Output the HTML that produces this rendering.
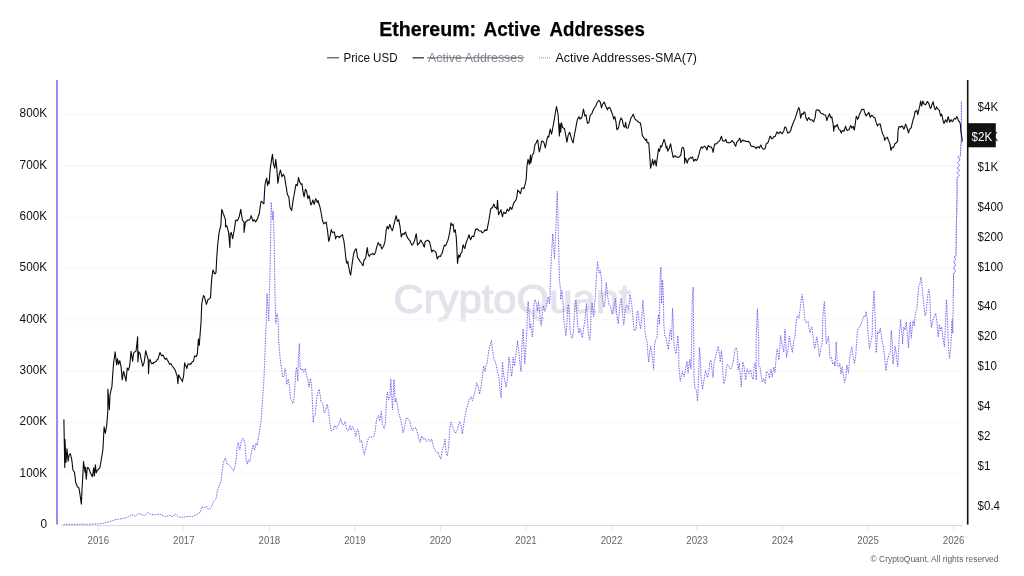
<!DOCTYPE html>
<html><head><meta charset="utf-8"><title>Ethereum: Active Addresses</title>
<style>
html,body{margin:0;padding:0;background:#fff;}
body{width:1024px;height:576px;overflow:hidden;position:relative;font-family:"Liberation Sans",sans-serif;}
</style></head><body>
<svg width="1024" height="576" viewBox="0 0 1024 576" style="position:absolute;left:0;top:0;will-change:transform">
<rect width="1024" height="576" fill="#fff"/>
<text x="512" y="313" text-anchor="middle" font-family="Liberation Sans, sans-serif" font-size="41" fill="#e2e3eb" stroke="#e2e3eb" stroke-width="1.2" stroke-linejoin="round" textLength="237" lengthAdjust="spacingAndGlyphs">CryptoQuant</text>
<line x1="61" x2="962.5" y1="114.45" y2="114.45" stroke="#f6f6f8" stroke-width="1"/>
<line x1="61" x2="962.5" y1="165.80" y2="165.80" stroke="#f6f6f8" stroke-width="1"/>
<line x1="61" x2="962.5" y1="217.15" y2="217.15" stroke="#f6f6f8" stroke-width="1"/>
<line x1="61" x2="962.5" y1="268.50" y2="268.50" stroke="#f6f6f8" stroke-width="1"/>
<line x1="61" x2="962.5" y1="319.85" y2="319.85" stroke="#f6f6f8" stroke-width="1"/>
<line x1="61" x2="962.5" y1="371.20" y2="371.20" stroke="#f6f6f8" stroke-width="1"/>
<line x1="61" x2="962.5" y1="422.55" y2="422.55" stroke="#f6f6f8" stroke-width="1"/>
<line x1="61" x2="962.5" y1="473.90" y2="473.90" stroke="#f6f6f8" stroke-width="1"/>
<line x1="61" x2="962.5" y1="525.45" y2="525.45" stroke="#d9d9e3" stroke-width="1.1"/>
<line x1="98.25" x2="98.25" y1="526" y2="530.5" stroke="#e3e3ec" stroke-width="1.1"/>
<text transform="translate(98.35,544.1) scale(0.925,1)" x="0" y="0" text-anchor="middle" font-family="Liberation Sans, sans-serif" font-size="10.5" fill="#62646e">2016</text>
<line x1="183.78" x2="183.78" y1="526" y2="530.5" stroke="#e3e3ec" stroke-width="1.1"/>
<text transform="translate(183.88,544.1) scale(0.925,1)" x="0" y="0" text-anchor="middle" font-family="Liberation Sans, sans-serif" font-size="10.5" fill="#62646e">2017</text>
<line x1="269.30" x2="269.30" y1="526" y2="530.5" stroke="#e3e3ec" stroke-width="1.1"/>
<text transform="translate(269.40,544.1) scale(0.925,1)" x="0" y="0" text-anchor="middle" font-family="Liberation Sans, sans-serif" font-size="10.5" fill="#62646e">2018</text>
<line x1="354.83" x2="354.83" y1="526" y2="530.5" stroke="#e3e3ec" stroke-width="1.1"/>
<text transform="translate(354.93,544.1) scale(0.925,1)" x="0" y="0" text-anchor="middle" font-family="Liberation Sans, sans-serif" font-size="10.5" fill="#62646e">2019</text>
<line x1="440.35" x2="440.35" y1="526" y2="530.5" stroke="#e3e3ec" stroke-width="1.1"/>
<text transform="translate(440.45,544.1) scale(0.925,1)" x="0" y="0" text-anchor="middle" font-family="Liberation Sans, sans-serif" font-size="10.5" fill="#62646e">2020</text>
<line x1="525.88" x2="525.88" y1="526" y2="530.5" stroke="#e3e3ec" stroke-width="1.1"/>
<text transform="translate(525.98,544.1) scale(0.925,1)" x="0" y="0" text-anchor="middle" font-family="Liberation Sans, sans-serif" font-size="10.5" fill="#62646e">2021</text>
<line x1="611.40" x2="611.40" y1="526" y2="530.5" stroke="#e3e3ec" stroke-width="1.1"/>
<text transform="translate(611.50,544.1) scale(0.925,1)" x="0" y="0" text-anchor="middle" font-family="Liberation Sans, sans-serif" font-size="10.5" fill="#62646e">2022</text>
<line x1="696.93" x2="696.93" y1="526" y2="530.5" stroke="#e3e3ec" stroke-width="1.1"/>
<text transform="translate(697.03,544.1) scale(0.925,1)" x="0" y="0" text-anchor="middle" font-family="Liberation Sans, sans-serif" font-size="10.5" fill="#62646e">2023</text>
<line x1="782.45" x2="782.45" y1="526" y2="530.5" stroke="#e3e3ec" stroke-width="1.1"/>
<text transform="translate(782.55,544.1) scale(0.925,1)" x="0" y="0" text-anchor="middle" font-family="Liberation Sans, sans-serif" font-size="10.5" fill="#62646e">2024</text>
<line x1="867.98" x2="867.98" y1="526" y2="530.5" stroke="#e3e3ec" stroke-width="1.1"/>
<text transform="translate(868.08,544.1) scale(0.925,1)" x="0" y="0" text-anchor="middle" font-family="Liberation Sans, sans-serif" font-size="10.5" fill="#62646e">2025</text>
<line x1="953.50" x2="953.50" y1="526" y2="530.5" stroke="#e3e3ec" stroke-width="1.1"/>
<text transform="translate(953.60,544.1) scale(0.925,1)" x="0" y="0" text-anchor="middle" font-family="Liberation Sans, sans-serif" font-size="10.5" fill="#62646e">2026</text>
<rect x="56" y="80" width="2" height="444.6" fill="#9b8af5"/>
<text transform="translate(47.1,117.25) scale(0.935,1)" x="0" y="0" text-anchor="end" font-family="Liberation Sans, sans-serif" font-size="12.6" fill="#111">800K</text>
<text transform="translate(47.1,168.59) scale(0.935,1)" x="0" y="0" text-anchor="end" font-family="Liberation Sans, sans-serif" font-size="12.6" fill="#111">700K</text>
<text transform="translate(47.1,219.94) scale(0.935,1)" x="0" y="0" text-anchor="end" font-family="Liberation Sans, sans-serif" font-size="12.6" fill="#111">600K</text>
<text transform="translate(47.1,271.28) scale(0.935,1)" x="0" y="0" text-anchor="end" font-family="Liberation Sans, sans-serif" font-size="12.6" fill="#111">500K</text>
<text transform="translate(47.1,322.63) scale(0.935,1)" x="0" y="0" text-anchor="end" font-family="Liberation Sans, sans-serif" font-size="12.6" fill="#111">400K</text>
<text transform="translate(47.1,373.97) scale(0.935,1)" x="0" y="0" text-anchor="end" font-family="Liberation Sans, sans-serif" font-size="12.6" fill="#111">300K</text>
<text transform="translate(47.1,425.31) scale(0.935,1)" x="0" y="0" text-anchor="end" font-family="Liberation Sans, sans-serif" font-size="12.6" fill="#111">200K</text>
<text transform="translate(47.1,476.66) scale(0.935,1)" x="0" y="0" text-anchor="end" font-family="Liberation Sans, sans-serif" font-size="12.6" fill="#111">100K</text>
<text transform="translate(47.1,528.00) scale(0.935,1)" x="0" y="0" text-anchor="end" font-family="Liberation Sans, sans-serif" font-size="12.6" fill="#111">0</text>
<rect x="966.9" y="80" width="1.6" height="444.6" fill="#111"/>
<text transform="translate(977.6,111.25) scale(0.92,1)" x="0" y="0" font-family="Liberation Sans, sans-serif" font-size="12.5" fill="#111">$4K</text>
<text transform="translate(977.6,141.22) scale(0.92,1)" x="0" y="0" font-family="Liberation Sans, sans-serif" font-size="12.5" fill="#111">$2K</text>
<text transform="translate(977.6,171.20) scale(0.92,1)" x="0" y="0" font-family="Liberation Sans, sans-serif" font-size="12.5" fill="#111">$1K</text>
<text transform="translate(977.6,210.82) scale(0.92,1)" x="0" y="0" font-family="Liberation Sans, sans-serif" font-size="12.5" fill="#111">$400</text>
<text transform="translate(977.6,240.80) scale(0.92,1)" x="0" y="0" font-family="Liberation Sans, sans-serif" font-size="12.5" fill="#111">$200</text>
<text transform="translate(977.6,270.77) scale(0.92,1)" x="0" y="0" font-family="Liberation Sans, sans-serif" font-size="12.5" fill="#111">$100</text>
<text transform="translate(977.6,310.40) scale(0.92,1)" x="0" y="0" font-family="Liberation Sans, sans-serif" font-size="12.5" fill="#111">$40</text>
<text transform="translate(977.6,340.37) scale(0.92,1)" x="0" y="0" font-family="Liberation Sans, sans-serif" font-size="12.5" fill="#111">$20</text>
<text transform="translate(977.6,370.35) scale(0.92,1)" x="0" y="0" font-family="Liberation Sans, sans-serif" font-size="12.5" fill="#111">$10</text>
<text transform="translate(977.6,409.97) scale(0.92,1)" x="0" y="0" font-family="Liberation Sans, sans-serif" font-size="12.5" fill="#111">$4</text>
<text transform="translate(977.6,439.95) scale(0.92,1)" x="0" y="0" font-family="Liberation Sans, sans-serif" font-size="12.5" fill="#111">$2</text>
<text transform="translate(977.6,469.92) scale(0.92,1)" x="0" y="0" font-family="Liberation Sans, sans-serif" font-size="12.5" fill="#111">$1</text>
<text transform="translate(977.6,509.55) scale(0.92,1)" x="0" y="0" font-family="Liberation Sans, sans-serif" font-size="12.5" fill="#111">$0.4</text>
<path d="M63.50,524.50 L71.00,524.25 L76.00,524.50 L81.00,524.12 L87.25,524.38 L93.50,524.00 L98.50,523.88 L103.50,523.25 L109.75,521.62 L116.00,519.50 L121.00,518.88 L126.00,517.88 L129.75,516.00 L132.88,514.50 L135.38,516.25 L138.50,513.50 L142.25,515.00 L144.75,515.38 L147.88,512.50 L151.00,514.50 L155.38,514.75 L159.75,514.12 L166.00,517.00 L169.12,515.38 L172.88,516.62 L175.38,513.75 L177.88,516.62 L181.00,517.25 L183.50,517.25 L187.25,516.38 L192.25,516.62 L196.62,514.75 L199.12,512.88 L200.38,512.25 L202.00,506.62 L204.12,507.88 L206.00,506.00 L207.88,509.12 L209.75,509.12 L211.62,506.62 L213.50,501.62 L216.00,499.12 L217.25,491.62 L219.12,486.00 L221.00,481.00 L222.25,471.00 L223.25,462.88 L225.38,457.88 L227.00,464.12 L229.12,464.75 L231.00,467.25 L233.75,471.00 L235.38,464.75 L236.62,456.00 L237.00,446.75 L238.25,442.38 L239.75,449.88 L241.62,440.50 L242.88,438.00 L245.00,443.00 L246.00,458.00 L247.25,464.12 L248.50,459.75 L249.75,461.62 L250.38,458.62 L251.62,451.12 L253.25,444.88 L254.50,450.50 L256.00,443.00 L257.25,445.50 L258.50,436.75 L260.00,428.62 L261.00,423.00 L262.00,406.75 L262.88,394.25 L263.50,388.00 L264.50,366.00 L265.40,341.00 L266.25,322.25 L267.00,293.50 L268.75,321.00 L270.00,271.00 L271.25,202.25 L272.50,219.75 L273.25,211.00 L274.25,246.00 L275.00,296.00 L275.75,323.50 L277.00,313.50 L278.00,318.50 L278.75,341.00 L279.75,353.50 L280.75,363.50 L281.60,368.50 L282.50,377.25 L284.10,376.00 L285.00,368.50 L286.00,373.50 L286.60,384.75 L288.25,379.10 L289.50,386.60 L290.40,398.00 L291.60,400.50 L292.90,403.60 L294.10,398.00 L294.75,388.00 L295.75,372.25 L296.60,367.25 L297.90,381.00 L298.25,359.75 L299.40,343.50 L300.00,366.00 L301.00,370.40 L302.50,368.50 L303.50,372.25 L305.40,368.50 L306.25,374.75 L307.90,379.75 L309.10,387.25 L310.40,378.50 L311.60,386.00 L312.25,398.00 L313.25,422.38 L313.75,416.75 L315.38,414.88 L316.62,398.00 L317.88,393.00 L319.12,389.25 L320.00,394.25 L321.00,401.75 L322.88,403.62 L324.12,413.00 L325.38,411.12 L327.25,404.25 L328.50,411.12 L329.75,421.75 L331.00,430.50 L332.88,430.50 L334.75,425.50 L336.25,428.62 L337.88,425.50 L339.12,423.62 L340.75,418.62 L342.25,424.12 L343.75,424.75 L345.00,421.62 L346.62,429.12 L348.50,431.00 L349.75,425.38 L351.25,430.38 L352.50,426.62 L354.50,429.75 L355.75,436.62 L357.50,429.12 L358.75,432.25 L360.00,442.25 L361.62,440.38 L362.88,448.50 L364.38,454.75 L366.00,447.25 L367.88,439.75 L369.75,436.62 L372.25,437.25 L374.12,436.00 L375.38,429.12 L376.62,419.12 L378.50,415.38 L379.75,421.00 L381.25,411.62 L382.50,424.75 L384.12,428.50 L385.38,423.50 L386.25,406.00 L386.62,397.88 L387.40,392.00 L388.50,400.00 L390.00,396.60 L390.80,379.00 L392.50,409.75 L394.00,379.50 L395.20,402.00 L396.00,398.50 L397.50,405.38 L398.50,412.25 L400.00,417.25 L401.62,423.50 L403.12,432.88 L404.75,426.00 L406.25,417.88 L407.88,418.50 L409.75,421.00 L411.00,427.25 L412.50,431.00 L414.12,427.88 L416.00,427.88 L417.50,432.88 L418.75,438.50 L420.00,442.25 L421.62,436.00 L422.88,439.12 L425.00,438.50 L426.62,441.62 L428.50,439.12 L430.00,441.62 L431.62,439.12 L433.25,446.00 L434.75,449.75 L436.62,452.25 L438.25,452.25 L439.50,456.62 L440.75,459.12 L442.25,449.75 L443.75,445.38 L445.00,439.12 L446.00,452.88 L447.25,456.00 L448.50,448.50 L449.75,429.00 L451.12,422.12 L453.00,427.75 L455.50,433.38 L457.38,429.62 L459.50,421.50 L461.12,425.25 L462.38,434.00 L463.62,425.25 L464.88,417.12 L466.50,408.38 L468.00,404.00 L469.50,399.00 L471.12,396.50 L472.38,400.88 L473.62,396.50 L475.25,390.88 L476.75,382.75 L478.25,386.50 L479.50,394.00 L481.12,386.50 L482.38,376.50 L483.62,365.88 L484.90,371.50 L486.10,365.25 L486.90,364.00 L489.00,349.50 L491.50,340.10 L492.50,350.75 L494.00,358.90 L496.00,364.00 L497.75,372.75 L499.00,377.75 L500.25,392.75 L501.10,397.75 L501.75,382.75 L502.50,362.00 L503.60,375.25 L504.90,380.90 L506.10,387.10 L507.40,380.25 L508.25,369.00 L509.00,357.00 L510.50,367.75 L511.50,376.50 L512.40,370.25 L513.10,357.00 L514.50,366.00 L516.25,352.00 L517.50,340.75 L518.75,350.75 L520.00,364.00 L521.10,371.50 L521.90,347.00 L523.10,328.90 L524.00,348.25 L524.75,364.00 L525.60,352.00 L526.90,329.50 L527.50,310.75 L528.12,301.38 L529.00,312.00 L530.00,328.25 L530.62,323.25 L531.50,330.75 L532.50,337.00 L533.12,327.00 L534.00,304.50 L535.00,299.50 L536.25,303.25 L537.25,310.75 L538.50,301.38 L539.38,309.50 L540.25,318.25 L541.25,325.75 L542.50,312.00 L543.50,305.75 L544.75,311.38 L546.00,308.25 L547.50,299.50 L548.50,297.00 L549.38,303.88 L550.25,295.75 L550.00,290.00 L551.50,255.00 L552.75,233.75 L554.50,258.75 L555.75,230.00 L557.25,191.25 L558.25,230.00 L559.50,280.00 L560.75,292.50 L560.62,299.50 L561.25,294.50 L562.00,290.75 L563.12,304.50 L563.75,319.50 L564.75,327.00 L566.00,335.75 L566.88,323.25 L567.75,307.00 L568.50,304.50 L569.38,314.50 L570.00,329.50 L571.25,337.00 L572.50,338.25 L573.50,330.75 L574.38,314.50 L575.25,302.00 L576.00,299.50 L576.88,314.50 L577.75,325.75 L579.00,333.25 L580.00,328.25 L581.00,332.00 L582.50,337.62 L583.50,328.25 L584.75,322.00 L585.62,313.25 L586.50,303.25 L587.25,317.00 L588.12,332.00 L589.75,340.12 L590.62,328.25 L591.25,309.50 L592.12,302.62 L593.12,313.25 L593.75,317.00 L594.38,305.75 L595.25,298.25 L596.50,275.00 L597.50,261.25 L599.12,273.12 L600.38,270.62 L601.62,280.00 L601.62,292.00 L603.75,307.00 L605.00,302.00 L606.25,282.50 L607.88,298.25 L609.12,304.50 L610.75,307.00 L612.00,314.50 L613.50,309.50 L615.38,298.25 L616.62,313.25 L618.25,323.88 L619.75,305.75 L621.25,298.25 L622.50,313.25 L623.75,325.12 L625.38,308.25 L627.00,305.12 L628.50,309.50 L630.00,294.50 L631.62,303.25 L632.88,317.00 L634.12,330.75 L636.00,329.50 L637.00,313.25 L637.88,310.75 L639.12,322.00 L640.75,328.88 L642.00,313.25 L642.88,300.12 L644.12,317.00 L644.75,329.50 L646.00,338.25 L647.25,342.00 L647.88,354.50 L648.75,362.00 L649.75,352.00 L650.75,346.38 L652.00,354.50 L653.25,364.00 L653.50,370.00 L654.50,345.75 L655.75,339.50 L657.00,338.25 L657.50,322.00 L658.50,314.50 L659.50,324.50 L659.80,292.00 L660.30,275.00 L661.00,266.90 L661.60,303.25 L662.60,280.00 L663.50,297.00 L663.75,323.25 L664.75,335.75 L666.25,338.25 L667.25,344.50 L668.50,349.50 L669.75,332.00 L670.75,329.50 L671.62,340.12 L672.50,308.25 L673.50,329.50 L674.12,347.00 L676.00,353.88 L677.25,342.00 L677.88,335.75 L678.75,349.50 L678.75,365.00 L680.25,381.25 L682.50,371.25 L684.00,376.88 L685.62,368.75 L686.88,361.25 L688.12,373.12 L689.75,359.38 L691.00,368.75 L691.60,342.00 L692.25,300.00 L693.25,286.90 L693.75,342.00 L694.00,377.50 L695.00,388.75 L696.50,390.00 L697.50,401.25 L698.50,381.25 L699.38,347.50 L700.25,356.25 L701.00,376.25 L702.50,389.38 L704.00,380.00 L705.62,370.62 L707.50,377.50 L709.00,371.25 L709.75,362.50 L711.00,360.00 L711.88,368.75 L713.12,377.50 L714.00,363.12 L715.25,357.50 L716.50,352.50 L718.12,346.25 L719.38,353.75 L720.25,361.88 L721.50,350.62 L722.50,363.75 L723.12,377.50 L724.00,383.75 L725.62,376.88 L726.50,367.50 L727.50,364.38 L729.00,366.88 L730.62,369.38 L732.50,365.00 L733.75,357.50 L735.00,348.75 L736.25,347.50 L737.25,351.25 L738.12,370.00 L739.38,363.12 L740.25,375.00 L741.25,386.88 L742.25,371.25 L742.75,361.88 L744.38,368.12 L745.62,380.00 L747.25,368.75 L748.75,373.75 L750.62,370.00 L751.88,376.25 L753.12,379.38 L754.38,363.12 L755.62,363.75 L756.25,380.00 L756.10,340.00 L757.40,308.75 L758.70,340.00 L758.75,366.25 L760.00,366.88 L761.00,374.38 L762.25,381.88 L763.75,378.75 L765.25,383.75 L766.50,371.25 L768.12,373.12 L769.38,378.12 L771.00,369.38 L772.25,376.88 L773.75,366.88 L775.00,372.50 L776.25,356.25 L777.25,348.75 L779.00,360.00 L780.62,335.62 L782.25,346.25 L783.75,351.88 L785.00,329.38 L786.50,357.50 L788.12,348.75 L789.38,336.25 L791.00,346.25 L792.50,352.50 L793.75,340.00 L795.00,337.50 L796.25,321.25 L797.50,315.62 L799.00,318.12 L800.62,305.00 L802.12,294.38 L803.50,303.75 L804.75,318.75 L806.25,323.12 L808.12,321.25 L809.75,332.50 L811.88,326.88 L813.12,337.50 L814.62,348.75 L816.88,336.88 L818.12,346.25 L819.38,356.88 L821.00,347.50 L822.25,342.50 L822.75,317.50 L824.38,301.25 L825.25,320.00 L826.25,343.75 L828.50,336.25 L829.38,348.75 L830.00,358.12 L831.50,357.50 L832.75,364.38 L834.38,361.88 L835.00,366.25 L836.25,341.88 L837.25,365.00 L838.75,366.88 L839.75,363.12 L841.00,373.75 L842.25,366.88 L843.50,376.88 L844.75,382.50 L846.00,376.25 L846.88,365.00 L848.50,373.12 L849.38,361.25 L850.62,352.50 L851.88,346.88 L853.12,356.25 L854.38,363.75 L855.62,356.25 L857.50,330.75 L859.38,327.00 L861.88,322.00 L863.75,315.75 L865.00,317.00 L866.25,311.38 L867.25,319.50 L868.12,334.50 L869.47,348.97 L872.20,334.75 L872.50,317.00 L874.00,290.75 L875.00,313.25 L876.25,352.80 L877.67,331.47 L878.77,333.66 L880.41,328.19 L882.05,340.22 L883.69,348.97 L884.78,358.81 L885.88,370.84 L887.52,359.91 L889.16,354.44 L890.25,352.25 L891.34,330.38 L892.22,342.41 L892.98,364.28 L894.62,352.25 L895.17,346.23 L896.27,353.34 L897.69,366.47 L898.78,347.88 L899.55,331.47 L900.00,328.25 L900.62,319.50 L901.50,332.00 L902.50,338.25 L902.50,344.05 L903.75,327.00 L905.00,330.12 L906.25,322.00 L907.25,332.00 L908.52,347.88 L909.38,332.00 L910.25,322.00 L911.25,338.25 L912.25,327.00 L913.12,320.75 L914.38,325.75 L915.25,313.25 L916.88,309.50 L917.75,297.00 L918.75,285.75 L920.00,283.25 L921.00,277.00 L921.88,283.25 L922.75,294.50 L923.75,303.25 L925.00,315.75 L926.25,312.00 L927.50,297.00 L928.75,289.50 L929.75,295.75 L930.62,319.50 L931.50,327.62 L932.75,320.75 L934.00,317.62 L935.62,313.25 L936.88,322.00 L938.12,337.00 L939.38,324.50 L940.62,330.75 L941.62,327.00 L942.75,337.00 L944.39,346.78 L945.62,322.00 L946.50,299.50 L947.50,322.00 L948.44,347.88 L949.53,358.27 L950.62,347.88 L951.50,334.75 L951.50,324.50 L952.25,319.50 L952.75,333.25 L953.25,297.00 L953.60,280.00 L953.40,274.00 L955.50,271.00 L953.50,268.00 L955.60,265.00 L953.60,262.00 L955.80,259.00 L954.20,257.00 L956.00,255.60 L956.30,229.00 L957.10,194.00 L957.10,177.50 L959.50,175.60 L956.90,172.80 L959.70,170.00 L957.10,168.10 L959.50,165.30 L957.60,162.50 L960.10,160.20 L958.10,156.90 L960.40,155.90 L960.80,147.00 L961.30,140.00 L961.30,130.00 L961.40,101.20" fill="none" stroke="#604fea" stroke-opacity="0.10" stroke-width="1" stroke-linejoin="round"/>
<path d="M63.50,524.50 L71.00,524.25 L76.00,524.50 L81.00,524.12 L87.25,524.38 L93.50,524.00 L98.50,523.88 L103.50,523.25 L109.75,521.62 L116.00,519.50 L121.00,518.88 L126.00,517.88 L129.75,516.00 L132.88,514.50 L135.38,516.25 L138.50,513.50 L142.25,515.00 L144.75,515.38 L147.88,512.50 L151.00,514.50 L155.38,514.75 L159.75,514.12 L166.00,517.00 L169.12,515.38 L172.88,516.62 L175.38,513.75 L177.88,516.62 L181.00,517.25 L183.50,517.25 L187.25,516.38 L192.25,516.62 L196.62,514.75 L199.12,512.88 L200.38,512.25 L202.00,506.62 L204.12,507.88 L206.00,506.00 L207.88,509.12 L209.75,509.12 L211.62,506.62 L213.50,501.62 L216.00,499.12 L217.25,491.62 L219.12,486.00 L221.00,481.00 L222.25,471.00 L223.25,462.88 L225.38,457.88 L227.00,464.12 L229.12,464.75 L231.00,467.25 L233.75,471.00 L235.38,464.75 L236.62,456.00 L237.00,446.75 L238.25,442.38 L239.75,449.88 L241.62,440.50 L242.88,438.00 L245.00,443.00 L246.00,458.00 L247.25,464.12 L248.50,459.75 L249.75,461.62 L250.38,458.62 L251.62,451.12 L253.25,444.88 L254.50,450.50 L256.00,443.00 L257.25,445.50 L258.50,436.75 L260.00,428.62 L261.00,423.00 L262.00,406.75 L262.88,394.25 L263.50,388.00 L264.50,366.00 L265.40,341.00 L266.25,322.25 L267.00,293.50 L268.75,321.00 L270.00,271.00 L271.25,202.25 L272.50,219.75 L273.25,211.00 L274.25,246.00 L275.00,296.00 L275.75,323.50 L277.00,313.50 L278.00,318.50 L278.75,341.00 L279.75,353.50 L280.75,363.50 L281.60,368.50 L282.50,377.25 L284.10,376.00 L285.00,368.50 L286.00,373.50 L286.60,384.75 L288.25,379.10 L289.50,386.60 L290.40,398.00 L291.60,400.50 L292.90,403.60 L294.10,398.00 L294.75,388.00 L295.75,372.25 L296.60,367.25 L297.90,381.00 L298.25,359.75 L299.40,343.50 L300.00,366.00 L301.00,370.40 L302.50,368.50 L303.50,372.25 L305.40,368.50 L306.25,374.75 L307.90,379.75 L309.10,387.25 L310.40,378.50 L311.60,386.00 L312.25,398.00 L313.25,422.38 L313.75,416.75 L315.38,414.88 L316.62,398.00 L317.88,393.00 L319.12,389.25 L320.00,394.25 L321.00,401.75 L322.88,403.62 L324.12,413.00 L325.38,411.12 L327.25,404.25 L328.50,411.12 L329.75,421.75 L331.00,430.50 L332.88,430.50 L334.75,425.50 L336.25,428.62 L337.88,425.50 L339.12,423.62 L340.75,418.62 L342.25,424.12 L343.75,424.75 L345.00,421.62 L346.62,429.12 L348.50,431.00 L349.75,425.38 L351.25,430.38 L352.50,426.62 L354.50,429.75 L355.75,436.62 L357.50,429.12 L358.75,432.25 L360.00,442.25 L361.62,440.38 L362.88,448.50 L364.38,454.75 L366.00,447.25 L367.88,439.75 L369.75,436.62 L372.25,437.25 L374.12,436.00 L375.38,429.12 L376.62,419.12 L378.50,415.38 L379.75,421.00 L381.25,411.62 L382.50,424.75 L384.12,428.50 L385.38,423.50 L386.25,406.00 L386.62,397.88 L387.40,392.00 L388.50,400.00 L390.00,396.60 L390.80,379.00 L392.50,409.75 L394.00,379.50 L395.20,402.00 L396.00,398.50 L397.50,405.38 L398.50,412.25 L400.00,417.25 L401.62,423.50 L403.12,432.88 L404.75,426.00 L406.25,417.88 L407.88,418.50 L409.75,421.00 L411.00,427.25 L412.50,431.00 L414.12,427.88 L416.00,427.88 L417.50,432.88 L418.75,438.50 L420.00,442.25 L421.62,436.00 L422.88,439.12 L425.00,438.50 L426.62,441.62 L428.50,439.12 L430.00,441.62 L431.62,439.12 L433.25,446.00 L434.75,449.75 L436.62,452.25 L438.25,452.25 L439.50,456.62 L440.75,459.12 L442.25,449.75 L443.75,445.38 L445.00,439.12 L446.00,452.88 L447.25,456.00 L448.50,448.50 L449.75,429.00 L451.12,422.12 L453.00,427.75 L455.50,433.38 L457.38,429.62 L459.50,421.50 L461.12,425.25 L462.38,434.00 L463.62,425.25 L464.88,417.12 L466.50,408.38 L468.00,404.00 L469.50,399.00 L471.12,396.50 L472.38,400.88 L473.62,396.50 L475.25,390.88 L476.75,382.75 L478.25,386.50 L479.50,394.00 L481.12,386.50 L482.38,376.50 L483.62,365.88 L484.90,371.50 L486.10,365.25 L486.90,364.00 L489.00,349.50 L491.50,340.10 L492.50,350.75 L494.00,358.90 L496.00,364.00 L497.75,372.75 L499.00,377.75 L500.25,392.75 L501.10,397.75 L501.75,382.75 L502.50,362.00 L503.60,375.25 L504.90,380.90 L506.10,387.10 L507.40,380.25 L508.25,369.00 L509.00,357.00 L510.50,367.75 L511.50,376.50 L512.40,370.25 L513.10,357.00 L514.50,366.00 L516.25,352.00 L517.50,340.75 L518.75,350.75 L520.00,364.00 L521.10,371.50 L521.90,347.00 L523.10,328.90 L524.00,348.25 L524.75,364.00 L525.60,352.00 L526.90,329.50 L527.50,310.75 L528.12,301.38 L529.00,312.00 L530.00,328.25 L530.62,323.25 L531.50,330.75 L532.50,337.00 L533.12,327.00 L534.00,304.50 L535.00,299.50 L536.25,303.25 L537.25,310.75 L538.50,301.38 L539.38,309.50 L540.25,318.25 L541.25,325.75 L542.50,312.00 L543.50,305.75 L544.75,311.38 L546.00,308.25 L547.50,299.50 L548.50,297.00 L549.38,303.88 L550.25,295.75 L550.00,290.00 L551.50,255.00 L552.75,233.75 L554.50,258.75 L555.75,230.00 L557.25,191.25 L558.25,230.00 L559.50,280.00 L560.75,292.50 L560.62,299.50 L561.25,294.50 L562.00,290.75 L563.12,304.50 L563.75,319.50 L564.75,327.00 L566.00,335.75 L566.88,323.25 L567.75,307.00 L568.50,304.50 L569.38,314.50 L570.00,329.50 L571.25,337.00 L572.50,338.25 L573.50,330.75 L574.38,314.50 L575.25,302.00 L576.00,299.50 L576.88,314.50 L577.75,325.75 L579.00,333.25 L580.00,328.25 L581.00,332.00 L582.50,337.62 L583.50,328.25 L584.75,322.00 L585.62,313.25 L586.50,303.25 L587.25,317.00 L588.12,332.00 L589.75,340.12 L590.62,328.25 L591.25,309.50 L592.12,302.62 L593.12,313.25 L593.75,317.00 L594.38,305.75 L595.25,298.25 L596.50,275.00 L597.50,261.25 L599.12,273.12 L600.38,270.62 L601.62,280.00 L601.62,292.00 L603.75,307.00 L605.00,302.00 L606.25,282.50 L607.88,298.25 L609.12,304.50 L610.75,307.00 L612.00,314.50 L613.50,309.50 L615.38,298.25 L616.62,313.25 L618.25,323.88 L619.75,305.75 L621.25,298.25 L622.50,313.25 L623.75,325.12 L625.38,308.25 L627.00,305.12 L628.50,309.50 L630.00,294.50 L631.62,303.25 L632.88,317.00 L634.12,330.75 L636.00,329.50 L637.00,313.25 L637.88,310.75 L639.12,322.00 L640.75,328.88 L642.00,313.25 L642.88,300.12 L644.12,317.00 L644.75,329.50 L646.00,338.25 L647.25,342.00 L647.88,354.50 L648.75,362.00 L649.75,352.00 L650.75,346.38 L652.00,354.50 L653.25,364.00 L653.50,370.00 L654.50,345.75 L655.75,339.50 L657.00,338.25 L657.50,322.00 L658.50,314.50 L659.50,324.50 L659.80,292.00 L660.30,275.00 L661.00,266.90 L661.60,303.25 L662.60,280.00 L663.50,297.00 L663.75,323.25 L664.75,335.75 L666.25,338.25 L667.25,344.50 L668.50,349.50 L669.75,332.00 L670.75,329.50 L671.62,340.12 L672.50,308.25 L673.50,329.50 L674.12,347.00 L676.00,353.88 L677.25,342.00 L677.88,335.75 L678.75,349.50 L678.75,365.00 L680.25,381.25 L682.50,371.25 L684.00,376.88 L685.62,368.75 L686.88,361.25 L688.12,373.12 L689.75,359.38 L691.00,368.75 L691.60,342.00 L692.25,300.00 L693.25,286.90 L693.75,342.00 L694.00,377.50 L695.00,388.75 L696.50,390.00 L697.50,401.25 L698.50,381.25 L699.38,347.50 L700.25,356.25 L701.00,376.25 L702.50,389.38 L704.00,380.00 L705.62,370.62 L707.50,377.50 L709.00,371.25 L709.75,362.50 L711.00,360.00 L711.88,368.75 L713.12,377.50 L714.00,363.12 L715.25,357.50 L716.50,352.50 L718.12,346.25 L719.38,353.75 L720.25,361.88 L721.50,350.62 L722.50,363.75 L723.12,377.50 L724.00,383.75 L725.62,376.88 L726.50,367.50 L727.50,364.38 L729.00,366.88 L730.62,369.38 L732.50,365.00 L733.75,357.50 L735.00,348.75 L736.25,347.50 L737.25,351.25 L738.12,370.00 L739.38,363.12 L740.25,375.00 L741.25,386.88 L742.25,371.25 L742.75,361.88 L744.38,368.12 L745.62,380.00 L747.25,368.75 L748.75,373.75 L750.62,370.00 L751.88,376.25 L753.12,379.38 L754.38,363.12 L755.62,363.75 L756.25,380.00 L756.10,340.00 L757.40,308.75 L758.70,340.00 L758.75,366.25 L760.00,366.88 L761.00,374.38 L762.25,381.88 L763.75,378.75 L765.25,383.75 L766.50,371.25 L768.12,373.12 L769.38,378.12 L771.00,369.38 L772.25,376.88 L773.75,366.88 L775.00,372.50 L776.25,356.25 L777.25,348.75 L779.00,360.00 L780.62,335.62 L782.25,346.25 L783.75,351.88 L785.00,329.38 L786.50,357.50 L788.12,348.75 L789.38,336.25 L791.00,346.25 L792.50,352.50 L793.75,340.00 L795.00,337.50 L796.25,321.25 L797.50,315.62 L799.00,318.12 L800.62,305.00 L802.12,294.38 L803.50,303.75 L804.75,318.75 L806.25,323.12 L808.12,321.25 L809.75,332.50 L811.88,326.88 L813.12,337.50 L814.62,348.75 L816.88,336.88 L818.12,346.25 L819.38,356.88 L821.00,347.50 L822.25,342.50 L822.75,317.50 L824.38,301.25 L825.25,320.00 L826.25,343.75 L828.50,336.25 L829.38,348.75 L830.00,358.12 L831.50,357.50 L832.75,364.38 L834.38,361.88 L835.00,366.25 L836.25,341.88 L837.25,365.00 L838.75,366.88 L839.75,363.12 L841.00,373.75 L842.25,366.88 L843.50,376.88 L844.75,382.50 L846.00,376.25 L846.88,365.00 L848.50,373.12 L849.38,361.25 L850.62,352.50 L851.88,346.88 L853.12,356.25 L854.38,363.75 L855.62,356.25 L857.50,330.75 L859.38,327.00 L861.88,322.00 L863.75,315.75 L865.00,317.00 L866.25,311.38 L867.25,319.50 L868.12,334.50 L869.47,348.97 L872.20,334.75 L872.50,317.00 L874.00,290.75 L875.00,313.25 L876.25,352.80 L877.67,331.47 L878.77,333.66 L880.41,328.19 L882.05,340.22 L883.69,348.97 L884.78,358.81 L885.88,370.84 L887.52,359.91 L889.16,354.44 L890.25,352.25 L891.34,330.38 L892.22,342.41 L892.98,364.28 L894.62,352.25 L895.17,346.23 L896.27,353.34 L897.69,366.47 L898.78,347.88 L899.55,331.47 L900.00,328.25 L900.62,319.50 L901.50,332.00 L902.50,338.25 L902.50,344.05 L903.75,327.00 L905.00,330.12 L906.25,322.00 L907.25,332.00 L908.52,347.88 L909.38,332.00 L910.25,322.00 L911.25,338.25 L912.25,327.00 L913.12,320.75 L914.38,325.75 L915.25,313.25 L916.88,309.50 L917.75,297.00 L918.75,285.75 L920.00,283.25 L921.00,277.00 L921.88,283.25 L922.75,294.50 L923.75,303.25 L925.00,315.75 L926.25,312.00 L927.50,297.00 L928.75,289.50 L929.75,295.75 L930.62,319.50 L931.50,327.62 L932.75,320.75 L934.00,317.62 L935.62,313.25 L936.88,322.00 L938.12,337.00 L939.38,324.50 L940.62,330.75 L941.62,327.00 L942.75,337.00 L944.39,346.78 L945.62,322.00 L946.50,299.50 L947.50,322.00 L948.44,347.88 L949.53,358.27 L950.62,347.88 L951.50,334.75 L951.50,324.50 L952.25,319.50 L952.75,333.25 L953.25,297.00 L953.60,280.00 L953.40,274.00 L955.50,271.00 L953.50,268.00 L955.60,265.00 L953.60,262.00 L955.80,259.00 L954.20,257.00 L956.00,255.60 L956.30,229.00 L957.10,194.00 L957.10,177.50 L959.50,175.60 L956.90,172.80 L959.70,170.00 L957.10,168.10 L959.50,165.30 L957.60,162.50 L960.10,160.20 L958.10,156.90 L960.40,155.90 L960.80,147.00 L961.30,140.00 L961.30,130.00 L961.40,101.20" fill="none" stroke="#6857ee" stroke-width="0.92" stroke-dasharray="1.3 1.3" stroke-linejoin="round"/>
<path d="M953.25,297.00 L953.60,280.00 L953.40,274.00 L955.50,271.00 L953.50,268.00 L955.60,265.00 L953.60,262.00 L955.80,259.00 L954.20,257.00 L956.00,255.60 L956.30,229.00 L957.10,194.00 L957.10,177.50 L959.50,175.60 L956.90,172.80 L959.70,170.00 L957.10,168.10 L959.50,165.30 L957.60,162.50 L960.10,160.20 L958.10,156.90 L960.40,155.90 L960.80,147.00 L961.30,140.00 L961.30,130.00 L961.40,101.20" fill="none" stroke="#6857ee" stroke-opacity="0.38" stroke-width="0.95" stroke-linejoin="round"/>
<path d="M63.88,419.38 L64.75,467.50 L65.00,439.38 L66.00,462.50 L67.00,448.75 L67.56,454.77 L68.12,461.25 L69.12,455.00 L69.75,453.92 L70.38,453.75 L71.00,456.45 L71.62,458.75 L72.25,463.69 L72.88,469.75 L73.69,471.05 L74.50,472.25 L75.12,477.39 L75.75,482.88 L76.50,484.18 L77.25,486.62 L78.06,487.26 L78.88,487.88 L79.63,491.96 L80.38,497.25 L81.38,504.12 L82.00,489.75 L82.88,474.75 L83.50,461.62 L84.25,466.85 L85.00,472.25 L85.38,467.25 L86.25,479.12 L87.25,467.88 L88.00,467.63 L88.75,468.50 L89.56,470.16 L90.38,472.88 L91.09,474.03 L91.79,475.80 L92.50,476.62 L93.12,471.76 L93.75,467.88 L94.38,476.00 L95.38,464.75 L96.25,472.88 L97.06,470.96 L97.88,469.75 L98.81,468.98 L99.75,467.88 L100.50,464.40 L101.25,459.75 L102.06,454.98 L102.88,450.00 L103.50,438.31 L104.12,426.88 L104.75,430.62 L105.38,433.12 L106.00,429.10 L106.62,426.25 L107.25,418.59 L107.88,410.00 L107.88,389.38 L108.63,399.11 L109.38,409.38 L110.00,395.00 L110.63,391.83 L111.25,389.09 L111.88,386.88 L112.69,375.07 L113.50,363.75 L114.31,358.23 L115.12,351.88 L115.87,358.02 L116.62,365.00 L117.50,358.75 L118.50,364.38 L119.12,362.61 L119.75,360.62 L120.38,363.62 L121.00,366.25 L121.62,372.96 L122.25,380.00 L122.88,375.69 L123.50,371.25 L124.33,374.01 L125.17,377.34 L126.00,381.25 L126.62,374.30 L127.25,368.12 L127.88,369.29 L128.50,370.00 L129.12,367.72 L129.75,365.62 L130.38,358.19 L131.00,351.25 L131.81,356.36 L132.62,361.25 L133.50,353.12 L134.33,352.44 L135.17,351.61 L136.00,351.25 L136.81,344.45 L137.62,336.88 L137.88,361.88 L138.75,351.88 L139.38,352.76 L140.00,353.12 L141.00,358.75 L141.81,362.17 L142.62,366.25 L143.37,364.47 L144.12,362.50 L144.94,356.59 L145.75,350.62 L146.50,353.92 L147.25,356.25 L148.25,360.00 L148.50,373.75 L149.12,361.88 L150.00,359.38 L150.81,361.86 L151.62,363.75 L152.40,363.16 L153.19,363.75 L153.97,362.32 L154.75,362.50 L155.53,361.61 L156.31,361.27 L157.10,359.71 L157.88,359.38 L158.59,357.07 L159.29,354.19 L160.00,352.50 L160.81,354.28 L161.62,355.62 L162.25,355.65 L162.88,355.00 L163.71,356.55 L164.55,358.41 L165.38,359.38 L166.00,358.51 L166.62,358.12 L167.40,359.94 L168.19,361.37 L168.97,362.92 L169.75,364.38 L170.38,364.01 L171.00,363.75 L171.75,365.32 L172.50,366.58 L173.25,367.09 L174.00,368.47 L174.75,369.38 L175.58,371.10 L176.42,374.22 L177.25,376.25 L177.88,383.75 L178.62,374.75 L179.25,375.98 L179.87,377.48 L180.50,377.88 L181.13,379.55 L181.75,380.09 L182.38,381.62 L183.00,378.66 L183.62,376.00 L184.62,362.88 L185.33,364.97 L186.04,366.01 L186.75,368.50 L187.38,366.26 L188.00,364.12 L188.63,363.90 L189.25,364.04 L189.88,364.75 L190.63,363.43 L191.38,363.60 L192.12,362.02 L192.87,361.42 L193.62,361.00 L194.50,356.00 L195.31,356.17 L196.12,356.62 L196.75,355.54 L197.38,353.50 L198.38,339.12 L199.25,345.38 L200.25,332.25 L201.12,321.00 L201.75,303.75 L202.62,299.14 L203.50,295.62 L204.50,296.88 L205.13,299.31 L205.75,301.94 L206.38,304.38 L207.19,302.38 L208.00,299.38 L208.83,299.17 L209.67,298.60 L210.50,297.50 L211.12,287.52 L211.75,278.12 L212.38,273.95 L213.00,270.00 L213.75,271.69 L214.50,273.75 L215.25,273.62 L216.00,272.50 L216.75,257.50 L217.75,243.75 L218.38,239.03 L219.00,233.12 L219.88,229.23 L220.75,226.25 L221.75,209.38 L222.50,211.14 L223.25,213.75 L224.00,215.48 L224.75,217.57 L225.50,220.00 L225.50,226.88 L226.12,226.23 L226.75,225.62 L227.69,229.18 L228.62,232.50 L229.25,239.69 L229.88,247.50 L230.25,233.75 L231.12,232.50 L231.87,234.98 L232.62,238.75 L233.44,234.27 L234.25,230.00 L235.00,224.83 L235.75,220.00 L236.56,220.40 L237.38,220.62 L238.31,219.02 L239.25,216.25 L240.00,213.06 L240.75,209.38 L241.56,214.71 L242.38,220.00 L243.19,221.09 L244.00,221.88 L244.00,232.50 L244.62,228.04 L245.25,223.12 L245.96,221.50 L246.67,221.56 L247.38,220.00 L248.21,220.16 L249.05,220.07 L249.88,219.38 L250.50,217.89 L251.12,215.62 L251.75,217.36 L252.37,219.24 L253.00,221.25 L253.75,220.11 L254.50,220.00 L255.50,221.88 L256.13,221.22 L256.75,219.64 L257.38,219.38 L258.31,216.00 L259.25,213.75 L260.19,207.12 L261.12,201.25 L261.75,201.43 L262.37,202.29 L263.00,203.12 L263.88,203.75 L264.44,193.79 L265.00,185.00 L265.81,180.91 L266.62,178.12 L267.62,185.62 L268.50,181.25 L269.12,183.75 L270.00,171.25 L270.62,166.11 L271.25,161.88 L271.88,157.61 L272.50,154.38 L273.50,164.38 L274.12,166.07 L274.75,168.12 L275.75,159.38 L276.62,166.88 L277.25,174.38 L277.88,183.12 L278.50,179.55 L279.12,175.00 L279.75,172.65 L280.38,170.00 L281.13,172.98 L281.88,176.88 L282.56,175.31 L283.25,174.38 L283.88,175.12 L284.50,176.25 L285.12,180.14 L285.75,184.38 L286.50,188.57 L287.25,193.75 L288.06,195.77 L288.88,196.88 L289.44,202.83 L290.00,207.50 L290.81,209.02 L291.62,210.62 L292.25,206.23 L292.88,201.88 L293.50,197.90 L294.12,195.00 L294.75,190.94 L295.37,187.72 L296.00,184.38 L296.62,184.69 L297.25,185.62 L297.88,181.99 L298.50,177.50 L299.12,179.56 L299.75,182.50 L300.38,182.82 L301.00,184.38 L302.00,183.75 L302.88,190.62 L303.50,194.34 L304.12,196.88 L304.75,193.17 L305.38,189.38 L306.00,189.86 L306.62,191.25 L307.25,195.06 L307.88,198.75 L308.50,196.57 L309.12,195.62 L309.75,198.78 L310.37,202.50 L311.00,205.00 L311.63,203.81 L312.25,201.92 L312.88,200.00 L313.50,201.88 L314.12,204.38 L314.94,201.39 L315.75,198.75 L316.50,200.19 L317.25,202.50 L318.12,200.62 L318.94,203.79 L319.75,206.25 L320.38,209.17 L321.00,212.00 L321.75,216.74 L322.50,220.75 L323.12,222.09 L323.75,223.88 L324.58,222.89 L325.42,223.03 L326.25,222.00 L326.88,226.69 L327.50,230.12 L328.12,236.21 L328.75,241.38 L329.38,239.28 L330.00,236.38 L330.62,233.35 L331.25,229.50 L331.88,231.37 L332.50,232.62 L333.13,232.06 L333.75,232.23 L334.38,232.00 L335.00,235.25 L335.62,238.88 L336.25,237.02 L336.88,236.38 L337.71,236.18 L338.55,236.92 L339.38,237.62 L340.31,236.37 L341.25,235.75 L341.88,235.38 L342.50,234.50 L343.12,237.90 L343.75,240.12 L344.38,244.74 L345.00,249.50 L346.00,259.50 L346.88,263.25 L347.75,261.38 L348.38,265.38 L349.00,268.25 L349.81,272.32 L350.62,275.12 L351.25,271.03 L351.88,265.75 L352.69,259.95 L353.50,254.50 L354.25,251.95 L355.00,250.12 L355.62,249.14 L356.25,248.88 L356.88,252.86 L357.50,257.62 L358.13,258.07 L358.75,259.45 L359.38,260.12 L360.31,261.89 L361.25,262.62 L362.19,264.63 L363.12,265.75 L364.00,260.12 L364.81,259.16 L365.62,258.25 L366.44,253.13 L367.25,247.62 L368.12,253.88 L368.75,255.52 L369.38,256.38 L370.00,254.90 L370.62,254.50 L371.25,254.29 L371.87,254.20 L372.50,253.25 L373.13,254.03 L373.75,254.41 L374.38,254.50 L375.00,253.22 L375.62,252.00 L376.25,248.77 L376.88,246.38 L377.50,244.88 L378.12,242.62 L378.75,243.65 L379.38,245.12 L380.00,245.20 L380.62,244.50 L381.25,247.30 L381.88,248.88 L382.81,247.18 L383.75,245.75 L384.38,243.44 L385.00,241.38 L385.62,236.02 L386.25,229.50 L387.25,226.38 L387.88,227.92 L388.50,228.88 L389.12,226.26 L389.75,224.50 L390.38,225.89 L391.00,228.25 L391.62,229.05 L392.25,230.75 L393.00,228.46 L393.75,225.12 L394.38,223.02 L395.00,220.12 L395.62,217.48 L396.25,215.75 L396.88,218.99 L397.50,221.38 L398.12,221.06 L398.75,219.50 L399.38,223.14 L400.00,226.38 L400.62,231.50 L401.25,237.00 L401.88,235.50 L402.50,233.88 L403.25,233.71 L404.00,234.50 L404.81,232.62 L405.62,232.00 L406.25,234.80 L406.88,236.38 L407.81,238.13 L408.75,239.50 L409.38,240.16 L410.00,240.75 L410.63,242.77 L411.25,243.58 L411.88,245.12 L412.81,244.35 L413.75,242.62 L414.38,241.17 L415.00,238.88 L415.62,236.00 L416.25,233.88 L416.88,239.18 L417.50,245.12 L418.13,244.23 L418.75,243.54 L419.38,243.25 L420.00,241.80 L420.62,240.12 L421.25,240.85 L421.87,242.10 L422.50,243.25 L423.13,244.02 L423.75,246.28 L424.38,247.00 L425.00,242.00 L425.83,241.18 L426.67,240.69 L427.50,240.12 L428.13,240.65 L428.75,241.49 L429.38,241.38 L430.00,243.78 L430.62,246.38 L431.25,249.73 L431.88,252.00 L432.50,251.06 L433.12,250.12 L433.75,250.58 L434.37,250.99 L435.00,251.38 L435.62,252.00 L436.25,253.88 L437.25,258.88 L438.00,257.55 L438.75,256.38 L439.69,255.97 L440.62,256.38 L441.25,254.28 L441.87,253.85 L442.50,252.00 L443.13,249.28 L443.75,247.38 L444.38,245.12 L445.00,245.73 L445.62,245.75 L446.41,243.95 L447.21,241.77 L448.00,240.12 L448.88,236.21 L449.75,232.25 L450.38,227.64 L451.00,222.88 L451.62,224.50 L452.25,225.38 L453.12,224.12 L454.00,232.25 L454.62,230.49 L455.25,229.75 L456.25,237.25 L456.88,248.50 L457.50,263.50 L458.12,259.20 L458.75,254.75 L459.75,257.25 L460.62,254.12 L461.25,252.86 L461.88,252.25 L462.50,248.21 L463.12,244.75 L463.94,246.98 L464.75,248.50 L465.50,245.39 L466.25,242.25 L466.88,240.77 L467.50,239.12 L468.25,237.27 L469.00,234.75 L469.81,237.79 L470.62,239.75 L471.44,237.80 L472.25,236.00 L473.00,236.46 L473.75,236.62 L474.69,232.88 L475.62,229.12 L476.25,229.14 L476.87,229.37 L477.50,229.12 L478.13,229.68 L478.75,230.42 L479.38,231.00 L480.31,230.97 L481.25,231.00 L481.88,232.51 L482.50,232.88 L483.33,232.10 L484.17,231.28 L485.00,229.75 L485.63,230.53 L486.25,229.86 L486.88,230.38 L487.50,227.33 L488.12,224.12 L488.75,221.26 L489.38,217.25 L490.00,213.63 L490.62,209.12 L491.25,208.23 L491.87,207.80 L492.50,207.88 L493.12,205.92 L493.75,204.12 L494.38,205.13 L495.00,207.25 L495.63,207.54 L496.25,207.94 L496.88,209.12 L497.50,200.38 L498.50,214.75 L499.12,213.72 L499.75,212.25 L500.38,211.37 L501.00,209.75 L501.75,213.70 L502.50,216.62 L503.50,212.25 L504.21,212.22 L504.91,213.36 L505.62,213.50 L506.25,212.25 L506.87,210.12 L507.50,209.12 L508.12,210.56 L508.75,211.00 L509.38,209.73 L510.00,207.25 L510.63,207.51 L511.25,209.08 L511.88,209.12 L512.82,205.87 L513.75,202.88 L514.68,201.61 L515.62,200.38 L516.25,199.14 L516.88,196.62 L517.75,190.00 L518.44,191.37 L519.12,191.43 L519.81,192.72 L520.50,193.75 L521.12,190.96 L521.75,188.12 L522.50,188.12 L523.25,188.14 L524.00,188.75 L524.71,185.60 L525.41,183.21 L526.12,180.00 L527.00,166.25 L528.00,159.38 L528.62,161.26 L529.25,164.38 L529.88,159.76 L530.50,155.00 L530.75,163.12 L531.57,158.98 L532.38,155.00 L533.00,153.75 L533.62,153.75 L534.25,149.16 L534.88,145.00 L535.60,143.91 L536.32,142.52 L537.03,140.68 L537.75,140.00 L538.50,146.57 L539.25,151.88 L539.91,149.53 L540.57,147.05 L541.22,143.21 L541.88,141.00 L542.82,141.32 L543.75,142.25 L544.50,144.47 L545.25,147.88 L546.07,144.18 L546.88,139.75 L547.50,137.58 L548.12,136.00 L548.75,137.25 L549.50,132.70 L550.25,129.12 L550.88,131.52 L551.50,134.12 L552.31,130.59 L553.12,126.00 L553.93,121.72 L554.75,116.62 L555.62,111.31 L556.50,106.62 L557.31,110.23 L558.12,114.75 L558.75,125.92 L559.38,136.00 L560.00,123.50 L560.62,132.25 L561.50,122.88 L562.50,127.25 L563.13,127.76 L563.75,128.34 L564.38,128.50 L565.00,131.09 L565.62,134.75 L566.25,137.92 L566.88,142.25 L567.50,139.06 L568.12,135.38 L568.87,133.72 L569.62,132.25 L570.43,134.51 L571.25,137.88 L572.18,140.95 L573.12,142.88 L573.75,138.99 L574.38,134.75 L575.19,131.08 L576.00,126.62 L576.75,122.33 L577.50,119.12 L578.25,118.33 L579.00,116.62 L580.00,119.12 L580.63,117.93 L581.25,118.34 L581.88,117.25 L582.69,113.12 L583.50,109.12 L584.12,112.35 L584.75,116.00 L585.38,115.44 L586.00,114.75 L586.75,119.68 L587.50,123.50 L588.25,122.57 L589.00,122.25 L590.00,116.00 L590.63,114.68 L591.25,114.37 L591.88,113.50 L592.82,110.97 L593.75,109.12 L594.68,107.36 L595.62,106.62 L596.25,104.72 L596.87,103.12 L597.50,102.25 L598.25,100.93 L599.00,100.38 L599.62,101.07 L600.25,102.25 L600.88,104.81 L601.50,107.88 L602.50,104.12 L603.13,103.83 L603.75,102.60 L604.38,102.25 L605.00,104.13 L605.62,106.00 L606.25,106.83 L606.87,108.30 L607.50,109.75 L608.13,108.29 L608.75,107.76 L609.38,107.25 L610.32,108.49 L611.25,111.00 L611.88,112.86 L612.50,114.12 L613.12,116.69 L613.75,119.12 L614.75,116.62 L615.38,119.03 L616.00,122.25 L616.88,129.75 L617.50,129.09 L618.12,128.50 L618.75,126.57 L619.38,123.50 L620.19,120.18 L621.00,117.88 L621.62,119.23 L622.25,119.75 L622.88,122.79 L623.50,126.00 L624.12,126.62 L624.75,127.25 L625.62,122.25 L626.50,127.88 L627.31,128.31 L628.12,127.88 L628.75,125.55 L629.38,123.50 L630.19,120.70 L631.00,117.88 L631.71,116.87 L632.41,116.00 L633.12,114.12 L633.93,116.11 L634.75,118.50 L635.46,119.56 L636.17,120.02 L636.88,120.38 L637.82,121.49 L638.75,122.25 L639.57,122.44 L640.38,122.88 L641.25,127.25 L642.25,135.38 L643.00,136.43 L643.75,137.88 L644.68,138.55 L645.62,140.38 L646.50,139.12 L647.25,142.88 L648.00,142.40 L648.75,142.88 L649.75,156.25 L650.62,168.12 L651.25,165.38 L651.88,163.75 L652.50,159.38 L653.12,162.50 L653.75,165.00 L654.38,162.18 L655.00,160.00 L655.62,162.69 L656.25,166.25 L656.88,160.71 L657.50,156.25 L658.50,148.75 L659.38,151.25 L660.00,148.88 L660.62,145.62 L661.50,146.88 L662.12,145.48 L662.75,143.12 L663.38,141.47 L664.00,139.38 L664.62,140.97 L665.25,143.12 L666.25,148.12 L666.88,146.25 L667.75,151.25 L668.57,149.35 L669.38,148.12 L670.00,145.67 L670.62,143.75 L671.25,147.45 L671.88,151.25 L672.50,153.93 L673.12,157.50 L673.75,156.80 L674.37,155.94 L675.00,155.62 L675.63,156.64 L676.25,157.07 L676.88,156.88 L677.82,157.25 L678.75,157.50 L679.68,156.23 L680.62,155.62 L681.25,152.48 L681.88,148.12 L682.69,147.56 L683.50,147.50 L684.38,151.88 L684.62,163.12 L685.25,158.12 L685.88,159.18 L686.50,160.62 L687.25,163.12 L688.12,160.00 L688.75,158.73 L689.38,158.75 L690.25,157.50 L691.25,158.12 L691.88,157.35 L692.50,156.88 L693.12,159.03 L693.75,161.25 L694.38,160.32 L695.00,159.38 L695.62,159.61 L696.25,160.62 L697.00,159.69 L697.75,158.75 L698.38,155.92 L699.00,154.38 L699.62,151.57 L700.25,149.38 L700.88,147.60 L701.50,146.88 L702.50,148.12 L703.12,147.37 L703.75,146.88 L704.50,146.28 L705.25,146.88 L706.07,147.82 L706.88,150.00 L707.50,147.56 L708.12,145.62 L708.93,145.90 L709.75,146.88 L710.50,146.99 L711.25,146.88 L711.88,148.17 L712.50,149.38 L713.12,152.50 L714.00,146.88 L715.00,143.75 L715.75,144.08 L716.50,143.75 L717.31,143.02 L718.12,141.88 L718.75,141.53 L719.37,141.12 L720.00,140.00 L720.75,137.98 L721.50,136.25 L722.50,140.62 L723.25,140.71 L724.00,141.25 L724.81,140.95 L725.62,139.38 L726.25,140.48 L726.88,142.50 L727.82,142.79 L728.75,142.50 L729.68,142.69 L730.62,142.50 L731.43,140.97 L732.25,140.62 L733.12,142.00 L734.00,142.50 L734.81,144.88 L735.62,146.25 L736.25,144.23 L736.88,141.88 L737.50,141.55 L738.12,140.62 L738.87,139.78 L739.62,138.12 L740.31,139.84 L741.00,142.50 L741.75,141.28 L742.50,140.00 L743.13,140.21 L743.75,140.85 L744.38,140.62 L745.32,141.33 L746.25,141.25 L747.18,141.67 L748.12,141.25 L748.93,141.98 L749.75,142.50 L750.50,144.89 L751.25,146.25 L752.18,146.49 L753.12,146.25 L753.93,146.82 L754.75,146.88 L755.50,147.46 L756.25,148.75 L756.88,147.21 L757.50,146.88 L758.13,146.82 L758.75,147.53 L759.38,148.12 L760.13,146.05 L760.88,145.00 L761.57,147.00 L762.25,148.12 L763.00,148.83 L763.75,149.38 L764.50,148.92 L765.25,148.12 L766.25,143.75 L767.12,143.29 L768.00,142.50 L768.67,140.65 L769.33,138.32 L770.00,136.25 L770.63,136.44 L771.25,138.30 L771.88,138.75 L772.82,138.14 L773.75,136.88 L774.50,136.57 L775.25,136.25 L776.07,134.11 L776.88,131.88 L777.82,133.02 L778.75,133.75 L779.68,132.25 L780.62,131.88 L781.43,133.12 L782.25,133.75 L783.00,132.18 L783.75,131.25 L784.38,128.51 L785.00,126.88 L785.62,127.20 L786.25,128.12 L787.00,130.92 L787.75,133.12 L788.50,132.32 L789.25,132.61 L790.00,131.88 L790.75,130.31 L791.50,127.50 L792.31,125.30 L793.12,123.12 L793.75,121.51 L794.37,120.18 L795.00,118.75 L795.63,116.91 L796.25,114.93 L796.88,112.50 L797.82,110.15 L798.75,107.50 L799.75,110.62 L800.62,118.12 L801.25,116.12 L801.88,113.75 L802.50,113.52 L803.12,114.38 L804.00,111.88 L805.00,112.50 L806.00,118.12 L806.62,118.91 L807.25,120.62 L808.00,118.74 L808.75,117.50 L809.68,119.07 L810.62,120.00 L811.43,119.75 L812.25,120.00 L813.00,121.03 L813.75,121.88 L814.38,119.37 L815.00,118.12 L816.00,110.62 L816.75,109.74 L817.50,110.00 L818.13,109.91 L818.75,110.64 L819.38,110.62 L820.19,112.12 L821.00,113.12 L821.75,113.66 L822.50,113.75 L823.13,113.89 L823.75,114.60 L824.38,115.00 L825.00,114.95 L825.62,115.00 L826.25,117.77 L826.88,120.62 L827.50,118.25 L828.12,116.88 L828.75,115.83 L829.38,113.75 L830.00,115.23 L830.62,117.50 L831.25,117.81 L831.88,116.88 L832.50,120.88 L833.12,123.75 L833.75,131.25 L834.38,126.25 L835.00,125.94 L835.62,126.88 L836.43,125.58 L837.25,124.38 L838.00,126.98 L838.75,128.75 L839.50,129.98 L840.25,130.00 L841.25,133.12 L841.88,131.80 L842.50,130.62 L843.25,130.63 L844.00,131.25 L844.81,128.37 L845.62,126.25 L846.37,129.01 L847.12,130.62 L847.93,129.93 L848.75,130.00 L849.68,127.92 L850.62,125.62 L851.25,126.40 L851.88,128.12 L852.50,127.22 L853.12,126.25 L853.75,128.71 L854.38,130.00 L855.25,123.75 L856.25,116.25 L857.00,117.34 L857.75,119.38 L858.57,117.30 L859.38,114.38 L860.19,112.83 L861.00,111.25 L861.88,109.12 L862.82,109.62 L863.75,109.12 L864.50,111.88 L865.25,114.12 L866.25,116.00 L866.88,114.71 L867.50,114.12 L868.12,113.70 L868.75,112.25 L869.50,114.73 L870.25,117.25 L871.07,115.70 L871.88,115.38 L872.69,115.67 L873.50,117.25 L874.25,117.55 L875.00,117.88 L875.62,120.32 L876.25,122.88 L876.88,124.18 L877.50,126.00 L878.25,124.59 L879.00,124.12 L879.62,123.92 L880.25,124.12 L881.25,129.12 L881.88,131.07 L882.50,133.50 L883.12,134.88 L883.75,135.38 L884.75,140.38 L885.50,138.48 L886.25,137.88 L886.88,137.89 L887.50,137.25 L888.25,139.88 L889.00,141.62 L890.00,144.12 L891.00,150.38 L891.62,148.32 L892.25,147.25 L892.88,147.80 L893.50,147.25 L894.25,145.65 L895.00,143.50 L895.75,143.40 L896.50,142.25 L897.50,141.62 L898.12,129.75 L899.00,126.62 L899.81,126.66 L900.62,127.25 L901.25,126.67 L901.87,126.28 L902.50,126.00 L903.25,128.21 L904.00,129.12 L904.81,126.74 L905.62,124.12 L906.43,126.13 L907.25,128.50 L907.88,130.60 L908.50,132.88 L909.38,129.75 L910.32,128.52 L911.25,127.88 L911.88,124.48 L912.50,122.25 L913.25,119.23 L914.00,117.25 L915.00,111.62 L915.63,111.64 L916.25,110.51 L916.88,110.38 L917.75,114.75 L918.75,110.38 L919.75,106.00 L920.62,101.00 L921.50,106.00 L922.12,104.07 L922.75,101.00 L923.38,102.23 L924.00,104.12 L924.81,104.13 L925.62,104.75 L926.25,103.72 L926.87,102.26 L927.50,101.62 L928.25,102.71 L929.00,104.12 L929.81,106.90 L930.62,108.50 L931.25,107.12 L931.88,104.75 L932.50,103.59 L933.12,101.62 L933.75,104.92 L934.38,107.88 L935.25,109.75 L935.88,108.72 L936.50,106.62 L937.31,108.44 L938.12,109.12 L938.75,109.81 L939.38,110.38 L940.00,113.48 L940.62,116.00 L941.50,114.12 L942.12,116.03 L942.75,119.12 L943.38,121.61 L944.00,123.50 L944.81,121.56 L945.62,119.75 L946.25,121.33 L946.88,122.25 L947.50,119.62 L948.12,116.62 L948.93,119.16 L949.75,122.25 L950.50,120.41 L951.25,119.75 L952.00,121.24 L952.75,121.62 L953.57,119.58 L954.38,118.50 L955.00,118.77 L955.62,119.12 L956.25,117.67 L956.88,116.62 L957.50,117.92 L958.12,119.75 L958.75,121.00 L959.38,121.62 L960.38,124.12 L961.00,132.25 L961.88,137.25 L962.25,141.62" fill="none" stroke="#0a0a0a" stroke-width="1.1" stroke-linejoin="round"/>
<rect x="968" y="123.2" width="27.8" height="24.1" fill="#111"/>
<text transform="translate(971.6,141) scale(0.92,1)" x="0" y="0" font-family="Liberation Sans, sans-serif" font-size="12.6" fill="#fff">$2K</text>
<text x="379.3" y="35.8" font-family="Liberation Sans, sans-serif" font-weight="bold" font-size="20.4" fill="#000" stroke="#000" stroke-width="0.25" lengthAdjust="spacingAndGlyphs" textLength="96.8">Ethereum:</text>
<text x="483.5" y="35.8" font-family="Liberation Sans, sans-serif" font-weight="bold" font-size="20.4" fill="#000" stroke="#000" stroke-width="0.25" lengthAdjust="spacingAndGlyphs" textLength="57">Active</text>
<text x="549.6" y="35.8" font-family="Liberation Sans, sans-serif" font-weight="bold" font-size="20.4" fill="#000" stroke="#000" stroke-width="0.25" lengthAdjust="spacingAndGlyphs" textLength="95.2">Addresses</text>
<line x1="327" x2="339" y1="57.8" y2="57.8" stroke="#444" stroke-width="1.1"/>
<text x="343.5" y="62.2" font-family="Liberation Sans, sans-serif" font-size="13.2" fill="#111" textLength="54" lengthAdjust="spacingAndGlyphs">Price USD</text>
<line x1="412.5" x2="424" y1="57.8" y2="57.8" stroke="#55586a" stroke-width="1.6"/>
<text x="428" y="62.2" font-family="Liberation Sans, sans-serif" font-size="13.2" fill="#888893" textLength="95.5" lengthAdjust="spacingAndGlyphs">Active Addresses</text>
<line x1="427" x2="524.5" y1="57.8" y2="57.8" stroke="#6f7080" stroke-width="1.1"/>
<line x1="539" x2="551" y1="57.8" y2="57.8" stroke="#8f82f2" stroke-width="1" stroke-dasharray="1 1"/>
<text x="555.5" y="62.2" font-family="Liberation Sans, sans-serif" font-size="13.2" fill="#111" textLength="141.5" lengthAdjust="spacingAndGlyphs">Active Addresses-SMA(7)</text>
<text x="870.5" y="562" font-family="Liberation Sans, sans-serif" font-size="9.6" fill="#5e606a" textLength="128" lengthAdjust="spacingAndGlyphs">© CryptoQuant. All rights reserved</text>
</svg>
</body></html>
